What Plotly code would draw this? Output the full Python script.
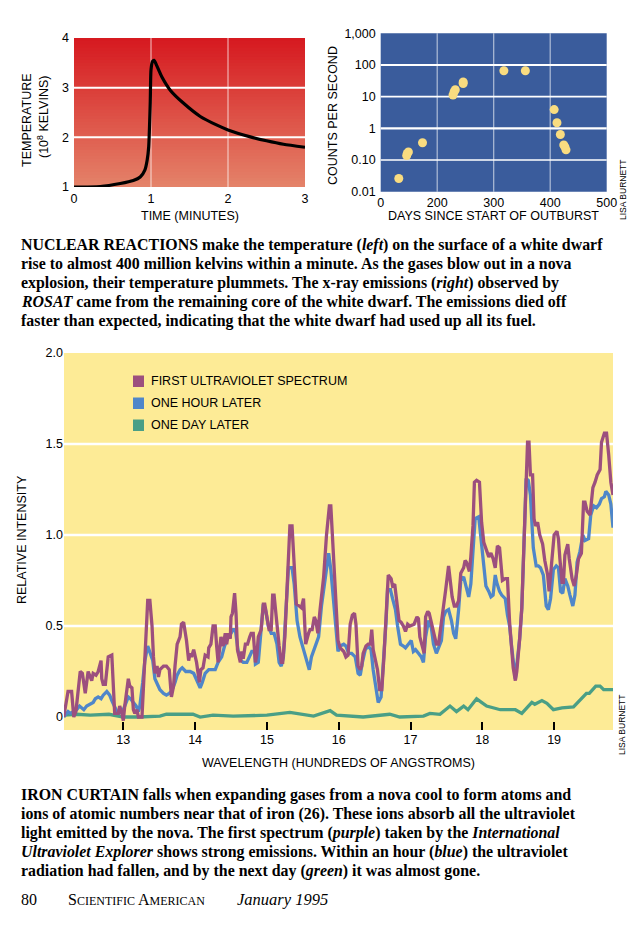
import plotly.graph_objects as go

# ---------------- DATA ----------------
# Top-left: temperature vs time
temp_time = [0, 0.34, 0.6, 0.77, 0.86, 0.92, 0.95, 0.97, 0.99, 1.0, 1.02, 1.04, 1.07, 1.14, 1.25,
             1.42, 1.64, 1.85, 2.0, 2.29, 2.5, 2.72, 3.0]
temp_value = [1.0, 1.01, 1.07, 1.13, 1.2, 1.34, 1.54, 1.81, 2.69, 3.36, 3.53, 3.55, 3.46, 3.22, 2.95,
              2.69, 2.42, 2.25, 2.15, 2.01, 1.93, 1.86, 1.8]

# Top-right: x-ray counts vs days
xray_days = [132, 146, 147, 149, 174, 228, 230, 232, 246, 246, 318, 356, 407, 412, 418, 424, 426, 428]
xray_counts = [0.026, 0.138, 0.16, 0.18, 0.35, 11.3, 14.3, 16.5, 29, 26, 66, 66, 3.9, 1.5, 0.64, 0.30, 0.26, 0.21]
xray_tickvals = [100, 200, 300, 400, 500]
xray_ticktext = ["0", "200", "300", "400", "500"]
count_tickvals = [0.01, 0.1, 1, 10, 100, 1000]
count_ticktext = ["0.01", "0.10", "1", "10", "100", "1,000"]

# Bottom: UV spectra
wl_first = [12.17, 12.23, 12.28, 12.31, 12.34, 12.40, 12.43, 12.47, 12.51, 12.56, 12.58, 12.62, 12.65, 12.69,
            12.70, 12.72, 12.75, 12.79, 12.84, 12.86, 12.88, 12.93, 12.95, 12.98, 13.00, 13.02, 13.07, 13.09,
            13.12, 13.14, 13.16, 13.19, 13.21, 13.26, 13.28, 13.32, 13.34, 13.37, 13.40, 13.42, 13.44, 13.47,
            13.49, 13.51, 13.56, 13.60, 13.64, 13.67, 13.70, 13.72, 13.75, 13.79, 13.81, 13.84, 13.86, 13.88,
            13.91, 13.93, 13.95, 13.98, 14.02, 14.06, 14.08, 14.11, 14.14, 14.18, 14.19, 14.22, 14.25, 14.28,
            14.30, 14.32, 14.36, 14.39, 14.42, 14.44, 14.46, 14.49, 14.50, 14.52, 14.55, 14.57, 14.59, 14.63,
            14.65, 14.67, 14.70, 14.73, 14.76, 14.78, 14.81, 14.84, 14.86, 14.88, 14.92, 14.95, 14.97, 15.00,
            15.03, 15.06, 15.08, 15.10, 15.14, 15.17, 15.20, 15.22, 15.25, 15.29, 15.32, 15.35, 15.38, 15.41,
            15.45, 15.48, 15.51, 15.54, 15.58, 15.60, 15.63, 15.66, 15.68, 15.71, 15.74, 15.79, 15.83, 15.87,
            15.89, 15.93, 15.96, 15.99, 16.02, 16.07, 16.10, 16.13, 16.16, 16.19, 16.22, 16.24, 16.27, 16.30,
            16.32, 16.34, 16.38, 16.41, 16.44, 16.46, 16.48, 16.52, 16.54, 16.57, 16.60, 16.63, 16.66, 16.69,
            16.73, 16.75, 16.78, 16.81, 16.84, 16.87, 16.90, 16.93, 16.96, 16.99, 17.03, 17.05, 17.09, 17.11,
            17.13, 17.17, 17.19, 17.21, 17.24, 17.26, 17.30, 17.33, 17.36, 17.39, 17.43, 17.46, 17.49, 17.53,
            17.55, 17.58, 17.61, 17.64, 17.67, 17.70, 17.74, 17.76, 17.78, 17.82, 17.84, 17.87, 17.89, 17.92,
            17.96, 17.99, 18.02, 18.05, 18.09, 18.12, 18.15, 18.18, 18.21, 18.24, 18.26, 18.28, 18.32, 18.35,
            18.38, 18.41, 18.43, 18.46, 18.48, 18.52, 18.55, 18.58, 18.61, 18.63, 18.65, 18.67, 18.70, 18.72,
            18.74, 18.77, 18.80, 18.84, 18.87, 18.91, 18.93, 18.97, 19.00, 19.04, 19.06, 19.08, 19.11, 19.13,
            19.15, 19.19, 19.21, 19.25, 19.28, 19.31, 19.34, 19.38, 19.41, 19.43, 19.46, 19.50, 19.54, 19.57,
            19.60, 19.64, 19.66, 19.70, 19.73, 19.76, 19.79, 19.82]
int_first = [0.00, 0.14, 0.14, 0.00, 0.03, 0.25, 0.24, 0.13, 0.25, 0.20, 0.24, 0.23, 0.25, 0.31,
             0.21, 0.18, 0.18, 0.33, 0.34, 0.19, 0.02, 0.02, 0.06, 0.02, -0.02, 0.06, 0.21, 0.17,
             0.16, 0.04, 0.02, 0.04, 0.00, 0.00, 0.17, 0.50, 0.64, 0.64, 0.50, 0.33, 0.24, 0.28,
             0.22, 0.26, 0.28, 0.28, 0.26, 0.11, 0.17, 0.28, 0.40, 0.44, 0.51, 0.52, 0.48, 0.42,
             0.31, 0.35, 0.33, 0.37, 0.30, 0.19, 0.26, 0.27, 0.34, 0.33, 0.38, 0.40, 0.50, 0.50,
             0.39, 0.30, 0.44, 0.39, 0.46, 0.40, 0.46, 0.43, 0.55, 0.57, 0.68, 0.57, 0.37, 0.30,
             0.36, 0.32, 0.40, 0.40, 0.44, 0.46, 0.46, 0.30, 0.34, 0.44, 0.48, 0.62, 0.62, 0.55,
             0.48, 0.48, 0.67, 0.67, 0.48, 0.39, 0.30, 0.30, 0.44, 0.81, 1.05, 1.05, 0.81, 0.62,
             0.61, 0.60, 0.65, 0.40, 0.46, 0.48, 0.48, 0.55, 0.53, 0.46, 0.59, 0.77, 1.00, 1.16,
             1.16, 0.88, 0.62, 0.42, 0.38, 0.36, 0.33, 0.34, 0.51, 0.56, 0.57, 0.51, 0.28, 0.26,
             0.28, 0.35, 0.39, 0.40, 0.40, 0.48, 0.37, 0.28, 0.26, 0.15, 0.15, 0.33, 0.57, 0.78,
             0.76, 0.72, 0.73, 0.62, 0.53, 0.52, 0.50, 0.47, 0.51, 0.50, 0.51, 0.51, 0.55, 0.54,
             0.44, 0.37, 0.35, 0.55, 0.58, 0.57, 0.50, 0.44, 0.40, 0.40, 0.51, 0.62, 0.70, 0.83,
             0.77, 0.66, 0.61, 0.61, 0.64, 0.79, 0.82, 0.86, 0.85, 0.80, 0.88, 1.05, 1.29, 1.30,
             1.29, 1.07, 0.96, 0.93, 0.88, 0.90, 0.87, 0.82, 0.94, 0.93, 0.82, 0.75, 0.76, 0.76,
             0.52, 0.38, 0.27, 0.20, 0.25, 0.43, 0.60, 0.95, 1.37, 1.51, 1.51, 1.33, 1.33, 1.09,
             1.05, 1.07, 1.00, 0.95, 0.86, 0.78, 0.69, 0.86, 1.00, 1.02, 0.98, 0.87, 0.74, 0.74,
             0.89, 0.95, 0.87, 0.76, 0.72, 0.78, 0.87, 0.90, 1.18, 1.18, 1.13, 1.11, 1.26, 1.29,
             1.33, 1.36, 1.51, 1.56, 1.56, 1.44, 1.29, 1.22]

wl_hour = [12.17, 12.23, 12.26, 12.30, 12.35, 12.39, 12.42, 12.45, 12.49, 12.54, 12.58, 12.61, 12.65, 12.69,
           12.72, 12.77, 12.81, 12.84, 12.87, 12.91, 12.94, 12.98, 13.00, 13.04, 13.07, 13.10, 13.14, 13.18,
           13.21, 13.23, 13.27, 13.30, 13.34, 13.37, 13.41, 13.44, 13.47, 13.51, 13.56, 13.60, 13.64, 13.67,
           13.72, 13.75, 13.79, 13.82, 13.87, 13.93, 13.98, 14.04, 14.07, 14.10, 14.14, 14.19, 14.23, 14.28,
           14.32, 14.37, 14.41, 14.44, 14.46, 14.50, 14.53, 14.56, 14.58, 14.60, 14.64, 14.67, 14.72, 14.75,
           14.79, 14.83, 14.84, 14.88, 14.92, 14.95, 14.98, 15.02, 15.06, 15.10, 15.14, 15.17, 15.20, 15.23,
           15.26, 15.30, 15.35, 15.38, 15.42, 15.46, 15.51, 15.56, 15.59, 15.62, 15.67, 15.72, 15.76, 15.81,
           15.86, 15.89, 15.94, 15.99, 16.02, 16.07, 16.10, 16.14, 16.18, 16.23, 16.27, 16.30, 16.33, 16.37,
           16.41, 16.45, 16.48, 16.52, 16.55, 16.59, 16.62, 16.66, 16.68, 16.72, 16.75, 16.79, 16.82, 16.86,
           16.90, 16.93, 16.97, 17.01, 17.04, 17.07, 17.11, 17.15, 17.18, 17.21, 17.25, 17.29, 17.32, 17.36,
           17.39, 17.43, 17.46, 17.49, 17.53, 17.57, 17.60, 17.63, 17.67, 17.70, 17.74, 17.77, 17.81, 17.84,
           17.88, 17.90, 17.95, 17.99, 18.02, 18.05, 18.09, 18.12, 18.15, 18.18, 18.20, 18.24, 18.27, 18.32,
           18.35, 18.38, 18.41, 18.46, 18.52, 18.55, 18.58, 18.61, 18.64, 18.67, 18.69, 18.71, 18.75, 18.78,
           18.81, 18.85, 18.89, 18.92, 18.95, 18.99, 19.03, 19.06, 19.09, 19.12, 19.15, 19.19, 19.22, 19.26,
           19.29, 19.32, 19.36, 19.40, 19.43, 19.48, 19.51, 19.55, 19.59, 19.63, 19.66, 19.70, 19.72, 19.76,
           19.79, 19.82]
int_hour = [0.00, 0.03, 0.02, 0.03, 0.04, 0.06, 0.05, 0.04, 0.06, 0.07, 0.08, 0.10, 0.11, 0.10,
            0.12, 0.14, 0.12, 0.09, 0.06, 0.03, 0.02, 0.03, 0.04, 0.08, 0.11, 0.10, 0.08, 0.06,
            0.03, 0.06, 0.19, 0.31, 0.39, 0.36, 0.31, 0.21, 0.18, 0.15, 0.13, 0.12, 0.13, 0.14,
            0.19, 0.23, 0.26, 0.27, 0.25, 0.25, 0.24, 0.19, 0.16, 0.19, 0.24, 0.26, 0.26, 0.26,
            0.30, 0.33, 0.39, 0.42, 0.44, 0.46, 0.48, 0.48, 0.40, 0.36, 0.31, 0.30, 0.30, 0.33,
            0.36, 0.36, 0.29, 0.30, 0.48, 0.62, 0.59, 0.50, 0.46, 0.46, 0.40, 0.30, 0.28, 0.33,
            0.55, 0.82, 0.82, 0.73, 0.53, 0.44, 0.37, 0.30, 0.26, 0.33, 0.39, 0.44, 0.61, 0.77,
            0.90, 0.81, 0.59, 0.36, 0.39, 0.40, 0.39, 0.35, 0.35, 0.33, 0.24, 0.23, 0.30, 0.37,
            0.39, 0.37, 0.26, 0.15, 0.08, 0.11, 0.28, 0.53, 0.70, 0.70, 0.65, 0.59, 0.50, 0.40,
            0.39, 0.38, 0.40, 0.42, 0.36, 0.37, 0.35, 0.33, 0.30, 0.44, 0.53, 0.49, 0.40, 0.35,
            0.38, 0.42, 0.55, 0.58, 0.59, 0.53, 0.46, 0.43, 0.59, 0.75, 0.77, 0.72, 0.66, 0.73,
            1.00, 1.09, 1.10, 0.95, 0.80, 0.72, 0.69, 0.66, 0.67, 0.78, 0.74, 0.69, 0.67, 0.65,
            0.56, 0.50, 0.38, 0.21, 0.43, 0.60, 0.95, 1.31, 1.30, 1.22, 1.07, 0.93, 0.83, 0.83,
            0.82, 0.78, 0.61, 0.59, 0.65, 0.81, 0.83, 0.82, 0.69, 0.68, 0.76, 0.72, 0.67, 0.61,
            0.67, 0.85, 0.91, 1.00, 0.97, 0.98, 1.11, 1.16, 1.15, 1.17, 1.20, 1.21, 1.24, 1.22,
            1.17, 1.04]

wl_day = [12.17, 12.35, 12.54, 12.80, 13.00, 13.21, 13.51, 13.60, 13.97, 14.07, 14.25, 14.53, 15.00, 15.32,
          15.65, 15.88, 15.97, 16.34, 16.71, 16.85, 17.18, 17.27, 17.41, 17.55, 17.64, 17.74, 17.80, 17.92,
          18.06, 18.25, 18.46, 18.55, 18.69, 18.73, 18.83, 18.90, 18.99, 19.11, 19.27, 19.45, 19.49, 19.58,
          19.64, 19.69, 19.82]
int_day = [0.01, 0.015, 0.01, 0.015, 0.00, 0.00, 0.005, 0.015, 0.015, 0.00, 0.01, 0.005, 0.01, 0.025,
           0.005, 0.035, 0.01, 0.00, 0.015, 0.00, 0.005, 0.02, 0.015, 0.06, 0.03, 0.06, 0.04, 0.10,
           0.06, 0.04, 0.04, 0.02, 0.08, 0.07, 0.09, 0.075, 0.04, 0.05, 0.055, 0.13, 0.13, 0.17,
           0.17, 0.15, 0.15]

series_names = ["FIRST ULTRAVIOLET SPECTRUM", "ONE HOUR LATER", "ONE DAY LATER"]
series_colors = ["#9c4f7e", "#4f86c9", "#4a9f86"]

# ---------------- FIGURE ----------------
W, H = 635, 938
def PX(x): return x / W
def PY(y): return 1 - y / H

SANS = "Liberation Sans, Arial, sans-serif"
SERIF = "Liberation Serif, Times New Roman, serif"

fig = go.Figure()

fig.add_trace(go.Scatter(x=temp_time, y=temp_value, mode="lines", line=dict(color="black", width=3.2, shape="spline", smoothing=0.6),
                         xaxis="x", yaxis="y", showlegend=False, hoverinfo="skip"))
fig.add_trace(go.Scatter(x=xray_days, y=xray_counts, mode="markers", marker=dict(color="#f9dc80", size=9, line=dict(width=0)),
                         xaxis="x2", yaxis="y2", showlegend=False))
for wl, iv, c in [(wl_day, int_day, series_colors[2]), (wl_hour, int_hour, series_colors[1]), (wl_first, int_first, series_colors[0])]:
    fig.add_trace(go.Scatter(x=wl, y=iv, mode="lines", line=dict(color=c, width=3.3), xaxis="x3", yaxis="y3",
                             showlegend=False))

shapes = []
# top-left gradient background (stacked, no gaps)
N = 48
top_c = (214, 26, 32)
bot_c = (228, 130, 105)
for i in range(N):
    t = i / (N - 1)
    col = tuple(int(round(top_c[k] * (1 - t) + bot_c[k] * t)) for k in range(3))
    shapes.append(dict(type="rect", xref="x domain", yref="y domain", x0=0, x1=1,
                       y0=0, y1=1 - i / N, fillcolor="rgb(%d,%d,%d)" % col,
                       line=dict(width=0), layer="below"))
for v in [2, 3]:
    shapes.append(dict(type="line", xref="x domain", yref="y", x0=0, x1=1, y0=v, y1=v,
                       line=dict(color="white", width=2), layer="below"))
for v in [1, 2]:
    shapes.append(dict(type="line", xref="x", yref="y domain", x0=v, x1=v, y0=0, y1=1,
                       line=dict(color="rgba(255,255,255,0.75)", width=1), layer="below"))
# top-right background
shapes.append(dict(type="rect", xref="x2 domain", yref="y2 domain", x0=0, x1=1, y0=0, y1=1,
                   fillcolor="#3a5c9c", line=dict(width=0), layer="below"))
for v, w in [(0.1, 1.6), (1, 2.2), (10, 1.6), (100, 2.2)]:
    shapes.append(dict(type="line", xref="x2 domain", yref="y2", x0=0, x1=1, y0=v, y1=v,
                       line=dict(color="white", width=w), layer="below"))
for v in [200, 300, 400]:
    shapes.append(dict(type="line", xref="x2", yref="y2 domain", x0=v, x1=v, y0=0, y1=1,
                       line=dict(color="rgba(255,255,255,0.6)", width=1.2), layer="below"))
# bottom background
shapes.append(dict(type="rect", xref="x3 domain", yref="y3 domain", x0=0, x1=1, y0=0, y1=1,
                   fillcolor="#fdeb96", line=dict(width=0), layer="below"))
for v in [0.5, 1.0, 1.5]:
    shapes.append(dict(type="line", xref="x3 domain", yref="y3", x0=0, x1=1, y0=v, y1=v,
                       line=dict(color="white", width=2.5), layer="below"))
# legend squares
for i, c in enumerate(series_colors):
    yc = 381 + 22 * i
    shapes.append(dict(type="rect", xref="paper", yref="paper", x0=PX(133), x1=PX(144),
                       y0=PY(yc + 6), y1=PY(yc - 5.5), fillcolor=c, line=dict(width=0)))

ann = []
def A(text, x, y, size, family=SANS, xanchor="left", yanchor="middle", angle=0, color="black"):
    ann.append(dict(text=text, x=PX(x), y=PY(y), xref="paper", yref="paper", showarrow=False,
                    xanchor=xanchor, yanchor=yanchor, textangle=angle, borderpad=0,
                    font=dict(family=family, size=size, color=color)))

# legend labels
for i, n in enumerate(series_names):
    A(n, 150, 381 + 22 * i, 12.5)

# axis titles
A("TEMPERATURE", 27, 120, 12.5, xanchor="center", angle=-90)
A("(10<sup>8</sup> KELVINS)", 43, 117, 12.5, xanchor="center", angle=-90)
A("TIME (MINUTES)", 190, 216, 12.5, xanchor="center")
A("COUNTS PER SECOND", 333, 116, 12.5, xanchor="center", angle=-90)
A("DAYS SINCE START OF OUTBURST", 493, 216, 12.5, xanchor="center")
A("LISA BURNETT", 623, 190, 8.5, xanchor="center", angle=-90)
A("RELATIVE INTENSITY", 22, 540, 12.5, xanchor="center", angle=-90)
A("WAVELENGTH (HUNDREDS OF ANGSTROMS)", 338, 763, 12.5, xanchor="center")
A("LISA BURNETT", 622, 725, 8.5, xanchor="center", angle=-90)

cap1 = [
    "NUCLEAR REACTIONS make the temperature (<i>left</i>) on the surface of a white dwarf",
    "rise to almost 400 million kelvins within a minute. As the gases blow out in a nova",
    "explosion, their temperature plummets. The x-ray emissions (<i>right</i>) observed by",
    "<i>ROSAT</i> came from the remaining core of the white dwarf. The emissions died off",
    "faster than expected, indicating that the white dwarf had used up all its fuel.",
]
cap2 = [
    "IRON CURTAIN falls when expanding gases from a nova cool to form atoms and",
    "ions of atomic numbers near that of iron (26). These ions absorb all the ultraviolet",
    "light emitted by the nova. The first spectrum (<i>purple</i>) taken by the <i>International</i>",
    "<i>Ultraviolet Explorer</i> shows strong emissions. Within an hour (<i>blue</i>) the ultraviolet",
    "radiation had fallen, and by the next day (<i>green</i>) it was almost gone.",
]
for i, t in enumerate(cap1):
    A("<b>" + t + "</b>", 20, 245 + 19 * i, 15.9, family=SERIF)
for i, t in enumerate(cap2):
    A("<b>" + t + "</b>", 20, 795 + 19 * i, 15.9, family=SERIF)

A("80", 20, 899, 16, family=SERIF)
A("S<span style='font-size:12px'>CIENTIFIC</span> A<span style='font-size:12px'>MERICAN</span>", 67, 899, 16, family=SERIF)
A("<i>January 1995</i>", 236, 899, 16.5, family=SERIF)

tickf = dict(family=SANS, size=12.5, color="black")
common = dict(showgrid=False, zeroline=False, showline=False, tickfont=tickf, automargin=False, fixedrange=True)
fig.update_layout(
    width=W, height=H, margin=dict(l=0, r=0, t=0, b=0, pad=0, autoexpand=False),
    paper_bgcolor="white", plot_bgcolor="rgba(0,0,0,0)",
    showlegend=False, hovermode=False,
    shapes=shapes, annotations=ann,
    xaxis=dict(domain=[PX(74), PX(305)], range=[0, 3], tickvals=[0, 1, 2, 3], ticks="", anchor="y",
               ticklabelstandoff=2, **common),
    yaxis=dict(domain=[PY(187), PY(38)], range=[1, 4], tickvals=[1, 2, 3, 4], ticks="", anchor="x",
               ticklabelstandoff=4, **common),
    xaxis2=dict(domain=[PX(380.7), PX(606.7)], range=[100, 500], tickvals=xray_tickvals, ticktext=xray_ticktext,
                ticks="", anchor="y2", ticklabelstandoff=2, **common),
    yaxis2=dict(domain=[PY(191.7), PY(33.3)], type="log", range=[-2, 3], tickvals=count_tickvals,
                ticktext=count_ticktext, ticks="", anchor="x2", ticklabelstandoff=4, **common),
    xaxis3=dict(domain=[PX(64), PX(613)], range=[12.174, 19.82], tickvals=[13, 14, 15, 16, 17, 18, 19],
                ticks="inside", ticklen=8, tickwidth=1.5, tickcolor="black", anchor="y3", **common),
    yaxis3=dict(domain=[PY(730), PY(353)], range=[-0.0714, 2.0], tickvals=[0, 0.5, 1.0, 1.5, 2.0],
                ticktext=["0", "0.5", "1.0", "1.5", "2.0"], ticks="", anchor="x3", **common),
)

post = ("var d=document.documentElement,b=document.body;"
        "b.style.margin='0';b.style.padding='0';b.style.overflow='hidden';")
fig.write_html("out.html", config={"displayModeBar": False}, post_script=post)
